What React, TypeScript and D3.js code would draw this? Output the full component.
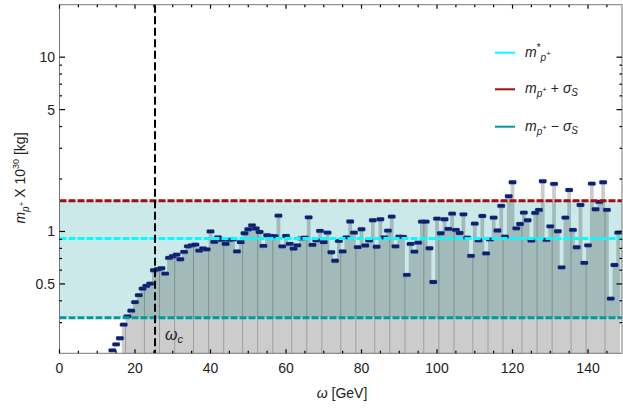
import React from "react";
import * as d3 from "d3";

// omega [GeV] of every sample
const omegaGeV = [
  14, 15, 16, 17, 18, 19, 20, 21, 22, 23, 24, 25, 26, 27, 28, 29, 30, 31, 32, 33,
  34, 35, 36, 37, 38, 39, 40, 41, 42, 43, 44, 45, 46, 47, 48, 49, 50, 51, 52, 53,
  54, 55, 56, 57, 58, 59, 60, 61, 62, 63, 64, 65, 66, 67, 68, 69, 70, 71, 72, 73,
  74, 75, 76, 77, 78, 79, 80, 81, 82, 83, 84, 85, 86, 87, 88, 89, 90, 91, 92, 93,
  94, 95, 96, 97, 98, 99, 100, 101, 102, 103, 104, 105, 106, 107, 108, 109, 110,
  111, 112, 113, 114, 115, 116, 117, 118, 119, 120, 121, 122, 123, 124, 125, 126,
  127, 128, 129, 130, 131, 132, 133, 134, 135, 136, 137, 138, 139, 140, 141, 142,
  143, 144, 145, 146, 147, 148,
];

// m_p+ x 10^30 [kg]
const massValues = [
  0.208, 0.225, 0.244, 0.292, 0.326, 0.351, 0.393, 0.431, 0.470, 0.487,
  0.502, 0.599, 0.607, 0.615, 0.573, 0.705, 0.721, 0.736, 0.693, 0.763,
  0.822, 0.833, 0.840, 0.776, 0.799, 0.790, 1.000, 0.871, 0.926, 0.894,
  0.848, 0.894, 0.902, 0.768, 0.868, 0.977, 1.030, 1.085, 1.040, 0.993,
  0.826, 0.951, 0.942, 0.939, 1.232, 0.822, 0.942, 0.848, 0.797, 0.833,
  0.912, 0.921, 1.206, 0.837, 0.890, 1.007, 0.868, 0.984, 0.760, 0.679,
  0.882, 0.768, 0.924, 1.141, 0.984, 0.813, 1.030, 0.831, 0.888, 1.160,
  0.817, 1.175, 0.924, 1.011, 1.216, 0.822, 0.934, 0.930, 0.563, 0.848,
  0.766, 0.862, 1.138, 1.138, 0.801, 0.513, 1.184, 0.977, 1.175, 1.034,
  1.265, 1.020, 0.980, 1.255, 0.921, 0.725, 1.109, 0.888, 1.227, 0.748,
  0.900, 1.200, 1.013, 1.401, 0.934, 1.592, 1.916, 1.043, 1.104, 1.282,
  1.160, 0.886, 1.277, 1.329, 1.941, 0.894, 1.071, 1.873, 1.003, 0.623,
  1.200, 1.730, 1.020, 0.812, 1.419, 0.660, 0.833, 1.881, 1.341, 1.477,
  1.916, 1.329, 0.412, 0.642, 0.984,
];

const meanMass = 0.91;
const sigmaS = 0.59;
const omegaC = 25.3;
const fillFromOmega = 17; // first sample with filling
// where the filling polygon is split (seen as thin darker lines)
const fillSeams = [
  17.5, 22.5, 26.5, 30.5, 35.5, 39.5, 43.5, 48.5, 52.5, 56.5, 61.5, 65.5, 69.5,
  74.5, 78.5, 83.5, 87.5, 91.5, 96.5, 100.5, 104.5, 109.5, 113.5, 117.5, 122.5,
  126.5, 130.5, 135.5, 139.5, 144.5,
];

const xTicks = [0, 20, 40, 60, 80, 100, 120, 140];
const xMinorTicks = d3.range(0, 150, 5);
const yTicks = [0.5, 1, 5, 10];
const yMinorTicks = [0.3, 0.4, 0.6, 0.7, 0.8, 0.9, 2, 3, 4, 6, 7, 8, 9];

const W = 623;
const H = 412;
const left = 59.5;
const right = 622;
const top = 4.7;
const bottom = 353.3;

const CYAN = "#00ffff";
const RED = "#a30d0d";
const TEAL = "#009c9c";
const BAND = "#cce9e9";
const FONT = "Liberation Sans, Arial, sans-serif";

export default function App() {
  const x = d3.scaleLinear().domain([0, 149]).range([left, right]);
  const y = d3.scaleLog().domain([0.2, 20]).range([bottom, top]);

  const points = omegaGeV.map((o, i) => ({ o, v: massValues[i] }));
  const filled = points.filter((d) => d.o >= fillFromOmega);
  const stepPts = filled.flatMap((d) => [
    [d.o - 0.5, d.v],
    [d.o + 0.5, d.v],
  ]);
  const fillPath = d3
    .area<number[]>()
    .x((p) => x(p[0]))
    .y0(bottom)
    .y1((p) => y(p[1]))(stepPts);

  const valueAt = (o: number) => {
    const p = points.find((d) => d.o === o);
    return p ? p.v : 0.2;
  };

  const hi = meanMass + sigmaS;
  const lo = meanMass - sigmaS;

  const legend = [
    { color: CYAN, kind: "star" },
    { color: RED, kind: "plus" },
    { color: TEAL, kind: "minus" },
  ];

  return (
    <svg
      width={W}
      height={H}
      style={{ position: "absolute", left: 0, top: 0, background: "#fff" }}
      fontFamily={FONT}
    >
      {/* sigma band */}
      <rect
        x={left}
        width={right - left}
        y={y(hi)}
        height={y(lo) - y(hi)}
        fill={BAND}
      />

      {/* filling below the samples */}
      <path d={fillPath || ""} fill="#000" fillOpacity={0.2} />
      {fillSeams.map((s) => (
        <line
          key={s}
          x1={x(s)}
          x2={x(s)}
          y1={bottom}
          y2={y(Math.min(valueAt(s - 0.5), valueAt(s + 0.5)))}
          stroke="#000"
          strokeOpacity={0.22}
          strokeWidth={1}
        />
      ))}

      {/* samples */}
      {points.map((d) => (
        <rect
          key={d.o}
          x={x(d.o) - 3.8}
          y={y(d.v) - 1.9}
          width={7.6}
          height={3.8}
          rx={1.2}
          fill="#0b206f"
          stroke="#4d64a3"
          strokeOpacity={0.35}
          strokeWidth={0.8}
        />
      ))}

      {/* mean and sigma lines */}
      {[
        { v: hi, c: RED },
        { v: meanMass, c: CYAN },
        { v: lo, c: TEAL },
      ].map((l) => (
        <line
          key={l.c}
          x1={left}
          x2={right}
          y1={y(l.v)}
          y2={y(l.v)}
          stroke={l.c}
          strokeWidth={3}
          strokeDasharray="7,2"
        />
      ))}

      {/* omega_c */}
      <line
        x1={x(omegaC)}
        x2={x(omegaC)}
        y1={top}
        y2={bottom}
        stroke="#000"
        strokeWidth={2}
        strokeDasharray="8,3.5"
      />
      <text x={x(omegaC) + 10} y={340} fontSize={16} fill="#222">
        <tspan fontStyle="italic">ω</tspan>
        <tspan fontStyle="italic" fontSize={11} dy={3}>
          c
        </tspan>
      </text>

      {/* frame */}
      <rect
        x={left}
        y={top}
        width={right - left}
        height={bottom - top}
        fill="none"
        stroke="#777"
        strokeWidth={1}
      />

      {/* x ticks */}
      {xMinorTicks.map((t) => {
        const major = xTicks.includes(t);
        const len = major ? 4 : 2.5;
        return (
          <g key={"x" + t}>
            <line x1={x(t)} x2={x(t)} y1={bottom} y2={bottom - len} stroke="#000" strokeWidth={1.2} />
            <line x1={x(t)} x2={x(t)} y1={top} y2={top + len} stroke="#000" strokeWidth={1.2} />
          </g>
        );
      })}
      {xTicks.map((t) => (
        <text
          key={"xl" + t}
          x={x(t)}
          y={373}
          fontSize={14}
          textAnchor="middle"
          fill="#222"
        >
          {t}
        </text>
      ))}

      {/* y ticks */}
      {yTicks.concat(yMinorTicks).map((t) => {
        const major = yTicks.includes(t);
        const len = major ? 5.5 : 2.5;
        return (
          <g key={"y" + t}>
            <line x1={left} x2={left + len} y1={y(t)} y2={y(t)} stroke="#000" strokeWidth={1.2} />
            <line x1={right} x2={right - len} y1={y(t)} y2={y(t)} stroke="#000" strokeWidth={1.2} />
          </g>
        );
      })}
      {yTicks.map((t) => (
        <text
          key={"yl" + t}
          x={55}
          y={y(t)}
          dy="0.35em"
          fontSize={14}
          textAnchor="end"
          fill="#222"
        >
          {t}
        </text>
      ))}

      {/* axis labels */}
      <text x={342} y={398} fontSize={14} textAnchor="middle" fill="#222">
        <tspan fontStyle="italic">ω</tspan>
        <tspan> [GeV]</tspan>
      </text>
      <text
        transform="translate(25,178) rotate(-90)"
        fontSize={14}
        textAnchor="middle"
        fill="#222"
      >
        <tspan fontStyle="italic">m</tspan>
        <tspan fontStyle="italic" fontSize={10} dy={4}>
          p
        </tspan>
        <tspan fontSize={8} dy={-5}>
          +
        </tspan>
        <tspan dy={1}> X 10</tspan>
        <tspan fontSize={9} dy={-6}>
          30
        </tspan>
        <tspan dy={6}> [kg]</tspan>
      </text>

      {/* legend */}
      {legend.map((l, i) => {
        const ly = [52.7, 89.3, 126.7][i];
        return (
          <g key={l.kind}>
            <line x1={495} x2={515} y1={ly} y2={ly} stroke={l.color} strokeWidth={2} />
            <text x={525} y={ly + 4} fontSize={14} fill="#222">
              <tspan fontStyle="italic">m</tspan>
              {l.kind === "star" ? (
                <>
                  <tspan fontSize={10} dy={-6}>
                    *
                  </tspan>
                  <tspan fontStyle="italic" fontSize={10} dy={10}>
                    p
                  </tspan>
                  <tspan fontSize={8} dy={-5}>
                    +
                  </tspan>
                </>
              ) : (
                <>
                  <tspan fontStyle="italic" fontSize={10} dy={4}>
                    p
                  </tspan>
                  <tspan fontSize={8} dy={-5}>
                    +
                  </tspan>
                  <tspan dy={1}>{l.kind === "plus" ? " + " : " − "}</tspan>
                  <tspan fontStyle="italic">σ</tspan>
                  <tspan fontStyle="italic" fontSize={10} dy={3}>
                    S
                  </tspan>
                </>
              )}
            </text>
          </g>
        );
      })}
    </svg>
  );
}
